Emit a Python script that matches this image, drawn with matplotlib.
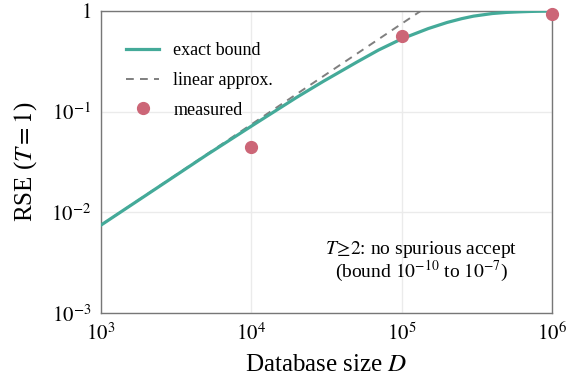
import numpy as np
import matplotlib
matplotlib.use("Agg")
import matplotlib.pyplot as plt

plt.rcParams['font.family'] = ['Liberation Serif', 'DejaVu Serif']
plt.rcParams['mathtext.fontset'] = 'stix'

# exact bound
D_exact = [1e3, 2e3, 5e3, 1e4, 2e4, 3e4, 5e4, 7e4, 1e5, 1.5e5, 2e5, 2.5e5, 3e5,
           4e5, 5e5, 6e5, 7e5, 8e5, 1e6]
rse_exact = [0.0075, 0.0149, 0.037, 0.072, 0.139, 0.20, 0.31, 0.41, 0.53, 0.67, 0.77,
             0.84, 0.89, 0.945, 0.97, 0.982, 0.99, 0.995, 1.0]

# linear approx (straight line in log-log)
D_lin = [1e3, 1e6]
rse_lin = [0.0075, 7.5]

# measured
D_meas = [1e4, 1e5, 1e6]
rse_meas = [0.045, 0.56, 0.94]

yticks = [1e-3, 1e-2, 1e-1, 1]
ylabels = ['$10^{-3}$', '$10^{-2}$', '$10^{-1}$', '$1$']
xticks = [1e3, 1e4, 1e5, 1e6]
xlabels = ['$10^{3}$', '$10^{4}$', '$10^{5}$', '$10^{6}$']

fig = plt.figure(figsize=(5.71, 3.81), dpi=100)
ax = fig.add_axes([0.177, 0.178, 0.79, 0.793])

ax.plot(D_exact, rse_exact, color='#44aa99', lw=2.3, label='exact bound', zorder=3)
ax.plot(D_lin, rse_lin, color='#7f7f7f', lw=1.4, ls=(0, (4, 3.2)), label='linear approx.', zorder=2)
ax.plot(D_meas, rse_meas, 'o', color='#cc6677', ms=8.5, label='measured', zorder=4,
        clip_on=False)

ax.set_xscale('log')
ax.set_yscale('log')
ax.set_xlim(1e3, 1e6)
ax.set_ylim(1e-3, 1)
ax.set_xticks(xticks)
ax.set_xticklabels(xlabels)
ax.set_yticks(yticks)
ax.set_yticklabels(ylabels)
ax.minorticks_off()
ax.tick_params(length=0, labelsize=15, pad=7)
ax.grid(True, color='#ebebeb', lw=1)
ax.set_axisbelow(True)
for s in ax.spines.values():
    s.set_color('#777777')
    s.set_linewidth(1)

ax.set_xlabel('Database size $D$', fontsize=18, labelpad=6)
ax.set_ylabel('RSE ($T=1$)', fontsize=18, labelpad=9)

ax.text(0.71, 0.17, '$T\\!\\geq\\!2$: no spurious accept\n(bound $10^{-10}$ to $10^{-7}$)',
        transform=ax.transAxes, ha='center', va='center', fontsize=14, linespacing=0.95)

ax.legend(loc='upper left', bbox_to_anchor=(0.02, 0.95), frameon=False, fontsize=13,
          handlelength=1.8, labelspacing=0.7)

fig.savefig('out.png', dpi=100)
